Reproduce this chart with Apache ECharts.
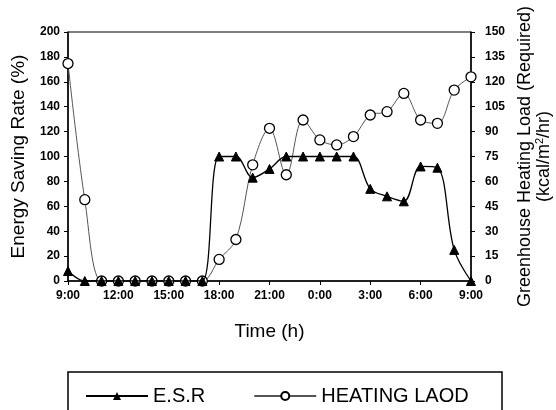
<!DOCTYPE html>
<html>
<head>
<meta charset="utf-8">
<script src="https://cdn.jsdelivr.net/npm/echarts@6/dist/echarts.min.js"></script>
<style>
  html, body { margin: 0; padding: 0; background: #fff; }
  #main { width: 556px; height: 410px; }
</style>
</head>
<body>
<div id="main"></div>
<script>
var hours = ['9:00', '10:00', '11:00', '12:00', '13:00', '14:00', '15:00', '16:00', '17:00',
  '18:00', '19:00', '20:00', '21:00', '22:00', '23:00', '0:00', '1:00', '2:00',
  '3:00', '4:00', '5:00', '6:00', '7:00', '8:00', '9:00'];
// energy saving rate (%), left axis
var esr = [8, 0, 0, 0, 0, 0, 0, 0, 0,
  100, 100, 83, 90, 100, 100, 100, 100, 100,
  74, 68, 64, 92, 91, 25, 0];
// heating load (kcal/m2/hr), right axis
var heatLoad = [131, 49, 0, 0, 0, 0, 0, 0, 0,
  13, 25, 70, 92, 64, 97, 85, 82, 87,
  100, 102, 113, 97, 95, 115, 123];

var chartDom = document.getElementById('main');
var myChart = echarts.init(chartDom, null);
var option;

var font = 'Liberation Sans';

option = {
  animation: false,
  textStyle: { fontFamily: font, color: '#000' },
  grid: {
    left: 68, right: 85, top: 32, bottom: 129,
    outerBoundsMode: 'none',
    containLabel: false,
    show: true, borderColor: '#000', borderWidth: 1
  },
  legend: {
    left: 80,
    top: 381,
    itemWidth: 62,
    itemHeight: 10,
    itemGap: 48,
    textStyle: { fontFamily: font, fontSize: 20, color: '#000' },
    data: ['E.S.R', 'HEATING LAOD']
  },
  graphic: [{
    type: 'rect',
    shape: { x: 68, y: 372, width: 434, height: 60 },
    style: { fill: 'none', stroke: '#000', lineWidth: 1.5 }
  }],
  xAxis: {
    type: 'category',
    data: hours,
    boundaryGap: false,
    name: 'Time (h)',
    nameLocation: 'middle',
    nameGap: 41,
    nameTextStyle: { fontFamily: font, fontSize: 19, color: '#000' },
    axisLine: { lineStyle: { color: '#000', width: 1.5 } },
    axisTick: { interval: 2, length: 4, lineStyle: { color: '#000' } },
    axisLabel: { interval: 2, margin: 9, fontSize: 12, fontWeight: 'bold', color: '#000' },
    splitLine: { show: false }
  },
  yAxis: [{
    type: 'value',
    min: 0, max: 200, interval: 20,
    name: 'Energy Saving Rate (%)',
    nameLocation: 'middle',
    nameRotate: 90,
    nameGap: 40,
    nameTextStyle: { fontFamily: font, fontSize: 19, color: '#000' },
    axisLine: { show: true, lineStyle: { color: '#000', width: 1.5 } },
    axisTick: { show: true, length: 4, lineStyle: { color: '#000' } },
    axisLabel: { margin: 8, fontSize: 12, fontWeight: 'bold', color: '#000' },
    splitLine: { show: false }
  }, {
    type: 'value',
    min: 0, max: 150, interval: 15,
    position: 'right',
    name: '{a|Greenhouse Heating Load (Required)}\n{a|(kcal/m}{s|2}{a|/hr)}',
    nameLocation: 'middle',
    nameRotate: 90,
    nameGap: 34,
    nameTextStyle: {
      fontFamily: font, fontSize: 18, color: '#000', lineHeight: 19,
      rich: {
        a: { fontFamily: font, fontSize: 18, color: '#000', lineHeight: 19 },
        s: { fontFamily: font, fontSize: 11, color: '#000', verticalAlign: 'top', lineHeight: 19, padding: [0, 0, 8, 0] }
      }
    },
    axisLine: { show: true, lineStyle: { color: '#000', width: 1.5 } },
    axisTick: { show: true, length: 4, lineStyle: { color: '#000' } },
    axisLabel: { margin: 14, fontSize: 12, fontWeight: 'bold', color: '#000' },
    splitLine: { show: false }
  }],
  series: [{
    name: 'E.S.R',
    type: 'line',
    yAxisIndex: 0,
    data: esr,
    smooth: 0.35,
    symbol: 'triangle',
    symbolSize: 9,
    lineStyle: { color: '#000', width: 1.3 },
    itemStyle: { color: '#000', borderColor: '#000' },
    z: 3
  }, {
    name: 'HEATING LAOD',
    type: 'line',
    yAxisIndex: 1,
    data: heatLoad,
    smooth: 0.35,
    symbol: 'circle',
    symbolSize: 10,
    showAllSymbol: true,
    lineStyle: { color: '#555', width: 1 },
    itemStyle: { color: '#fff', borderColor: '#000', borderWidth: 1.3 },
    z: 2
  }]
};

myChart.setOption(option);
</script>
</body>
</html>
